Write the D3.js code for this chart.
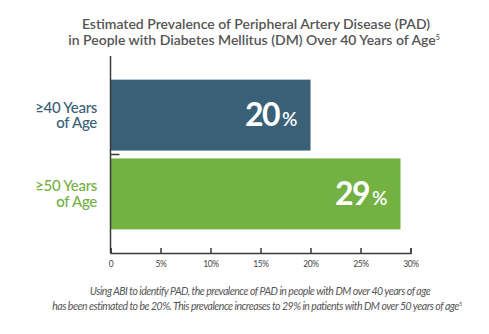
<!DOCTYPE html>
<html>
<head>
<meta charset="utf-8">
<script src="https://cdn.jsdelivr.net/npm/d3@7"></script>
<style>
  body { margin: 0; background: #fff; }
  svg { display: block; font-family: Lato, "Open Sans", sans-serif; }
</style>
</head>
<body>
<div id="chart"></div>
<script>
// prevalence by age group
var groups = ["≥40 Years|of Age", "≥50 Years|of Age"];
var prevalence = [20, 29];
var barColors = ["#3a6078", "#73b143"];
var xTicks = [0, 5, 10, 15, 20, 25, 30];

var titleLines = [
  "Estimated Prevalence of Peripheral Artery Disease (PAD)",
  "in People with Diabetes Mellitus (DM) Over 40 Years of Age"
];
var noteLines = [
  "Using ABI to identify PAD, the prevalence of PAD in people with DM over 40 years of age",
  "has been estimated to be 20%. This prevalence increases to 29% in patients with DM over 50 years of age"
];

var width = 489, height = 334;

var svg = d3.select("#chart")
            .append("svg")
            .attr("width", width)
            .attr("height", height);

var x = d3.scaleLinear()
          .domain([0, 30])
          .range([110.5, 410.5]);

var y = d3.scaleBand()
          .domain(groups)
          .range([56, 253])
          .paddingInner(0.1)
          .paddingOuter(0.3);

// title
var title = svg.append("text")
               .attr("text-anchor", "middle")
               .style("fill", "#555")
               .style("font-size", "14px")
               .style("font-weight", 600);
title.append("tspan").attr("x", 256).attr("y", 29).text(titleLines[0]);
title.append("tspan").attr("x", 254).attr("y", 44.5).text(titleLines[1]);
title.append("tspan").attr("dy", -5).style("font-size", "7px").text("5");

// bars
svg.selectAll(".bar")
   .data(groups)
   .enter()
   .append("rect")
   .attr("class", "bar")
   .attr("x", x(0))
   .attr("y", d => y(d))
   .attr("width", (d, i) => x(prevalence[i]) - x(0))
   .attr("height", y.bandwidth())
   .attr("fill", (d, i) => barColors[i]);

// value labels
var values = svg.selectAll(".value")
   .data(groups)
   .enter()
   .append("text")
   .attr("class", "value")
   .attr("x", (d, i) => x(prevalence[i]) - 13)
   .attr("y", d => y(d) + y.bandwidth() / 2 + 11)
   .attr("text-anchor", "end")
   .style("fill", "#fff")
   .style("font-weight", 700);
values.append("tspan")
      .style("font-size", "32px")
      .style("letter-spacing", "-1.5px")
      .text((d, i) => prevalence[i]);
values.append("tspan")
      .attr("dx", 3)
      .style("font-size", "19px")
      .style("font-weight", 600)
      .text("%");

// group labels, two lines each
var labels = svg.selectAll(".group-label")
   .data(groups)
   .enter()
   .append("text")
   .attr("class", "group-label")
   .attr("text-anchor", "end")
   .style("font-size", "15px")
   .style("font-weight", 500)
   .style("letter-spacing", "-0.3px")
   .style("fill", (d, i) => barColors[i]);
labels.selectAll("tspan")
      .data(d => d.split("|").map(s => ({ s: s, g: d })))
      .enter()
      .append("tspan")
      .attr("x", 97)
      .attr("y", (d, i) => y(d.g) + y.bandwidth() / 2 - 2.5 + i * 15.5)
      .text(d => d.s);

// y axis line with a tick between the bars
var axisColor = "#3a3a3a";
svg.append("line")
   .attr("x1", x(0)).attr("x2", x(0))
   .attr("y1", 56).attr("y2", 253)
   .style("stroke", axisColor)
   .style("stroke-width", 1.5);
var between = y(groups[1]) - y.step() * y.paddingInner() / 2;
svg.append("line")
   .attr("x1", x(0)).attr("x2", x(0) + 9)
   .attr("y1", between).attr("y2", between)
   .style("stroke", axisColor)
   .style("stroke-width", 1.5);

// x axis
var xAxis = svg.append("g")
   .attr("transform", "translate(0,253)")
   .call(d3.axisBottom(x)
           .tickValues(xTicks)
           .tickSize(-5)
           .tickPadding(8)
           .tickFormat(d => d === 0 ? "0" : d + "%"));
xAxis.select(".domain").style("stroke", axisColor).style("stroke-width", 1.5);
xAxis.selectAll(".tick line").style("stroke", axisColor).style("stroke-width", 1.5);
xAxis.selectAll(".tick text")
     .style("font-family", "Lato, sans-serif")
     .style("font-size", "8.5px")
     .style("letter-spacing", "-0.4px")
     .style("fill", "#444");

// footnote
var note = svg.append("text")
              .attr("text-anchor", "middle")
              .style("fill", "#555")
              .style("font-size", "10.5px")
              .style("font-style", "italic")
              .style("letter-spacing", "-0.5px");
note.append("tspan").attr("x", 260).attr("y", 295).text(noteLines[0]);
note.append("tspan").attr("x", 257).attr("y", 309.5).text(noteLines[1]);
note.append("tspan").attr("dy", -4).style("font-size", "6px").text("5");
</script>
</body>
</html>
